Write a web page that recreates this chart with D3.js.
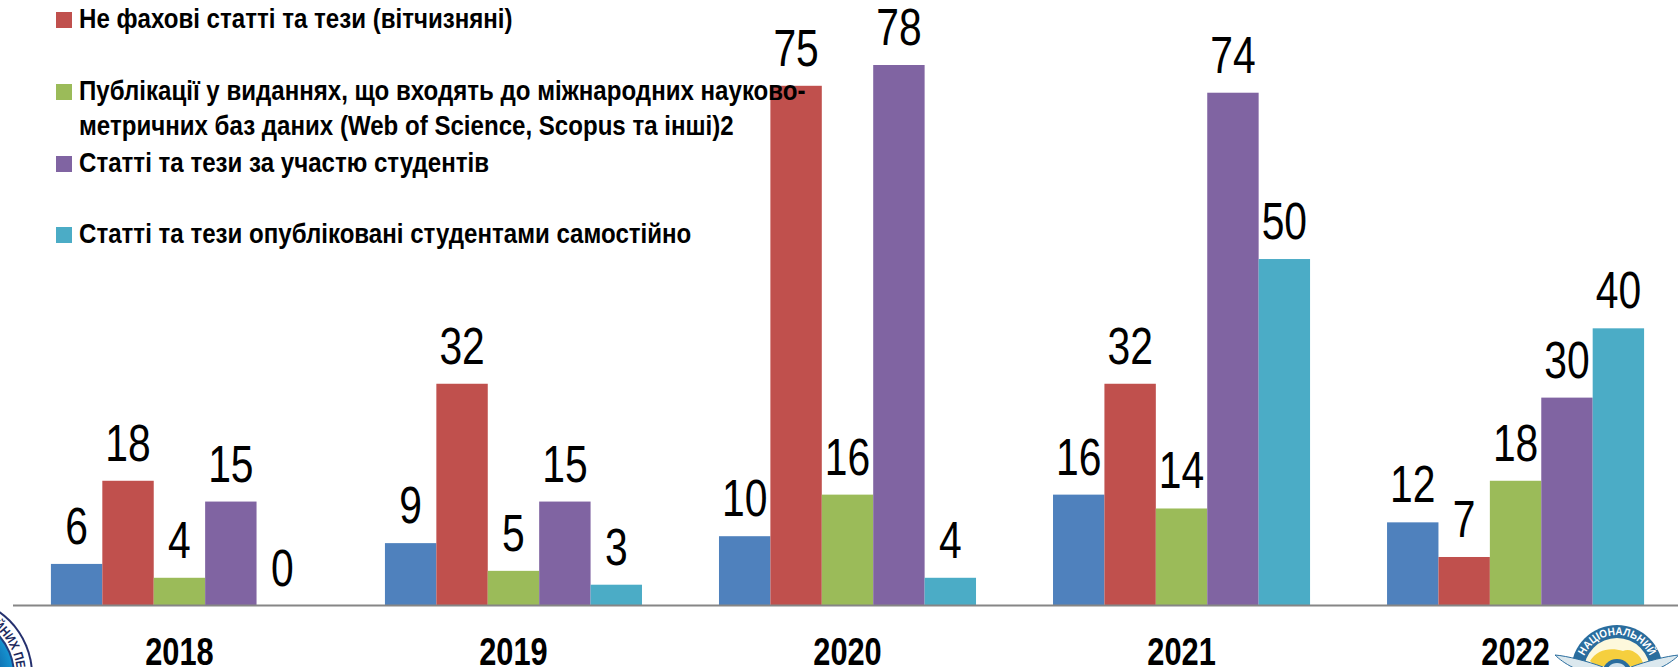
<!DOCTYPE html>
<html>
<head>
<meta charset="utf-8">
<script src="https://cdnjs.cloudflare.com/ajax/libs/d3/7.8.5/d3.min.js"></script>
<style>
html, body { margin: 0; padding: 0; background: #fff; overflow: hidden; }
text { font-family: "Liberation Sans", Arial, sans-serif; }
</style>
</head>
<body>
<svg id="chart" width="1678" height="667"></svg>
<script>
var years = ['2018', '2019', '2020', '2021', '2022'];
var seriesNames = ['s1', 's2', 's3', 's4', 's5'];
var colors = ['#4f81bd', '#c0504d', '#9bbb59', '#8064a2', '#4bacc6'];

var series1 = [6, 9, 10, 16, 12];
var series2 = [18, 32, 75, 32, 7];
var series3 = [4, 5, 16, 14, 18];
var series4 = [15, 15, 78, 74, 30];
var series5 = [0, 3, 4, 50, 40];
var allSeries = [series1, series2, series3, series4, series5];

var legendLabels = [
	'Не фахові статті та тези (вітчизняні)',
	'Публікації у виданнях, що входять до міжнародних науково-',
	'метричних баз даних (Web of Science, Scopus та інші)2',
	'Статті та тези за участю студентів',
	'Статті та тези опубліковані студентами самостійно'
];
var legendSwatches = [colors[1], colors[2], null, colors[3], colors[4]];

var svg = d3.select('#chart');

var baseline = 605.5,
	labelSqueeze = 0.8,
	legendBaselines = [28, 100, 135, 172, 243];

var x0 = d3.scaleBand().domain(years).range([12.5, 1682.5]).paddingInner(0.2305).paddingOuter(0.115);
var x1 = d3.scaleBand().domain(seriesNames).range([0, x0.bandwidth()]);
var y = d3.scaleLinear().domain([0, 78]).range([baseline, 65]);

//logos sit under the plot, both cropped by the page edge
drawLeftLogo();
drawRightLogo();

var groups = svg.selectAll('g.year')
	.data(years)
	.enter()
		.append('g')
		.attr('class', 'year')
		.attr('transform', function(d) { return 'translate(' + x0(d) + ',0)'; });

groups.selectAll('rect')
	.data(function(d, i) {
		return allSeries.map(function(s, k) { return { name: seriesNames[k], value: s[i], color: colors[k] }; });
	})
	.enter()
		.append('rect')
		.attr('x', function(d) { return x1(d.name); })
		.attr('y', function(d) { return y(d.value); })
		.attr('width', x1.bandwidth())
		.attr('height', function(d) { return baseline - y(d.value); })
		.attr('fill', function(d) { return d.color; });

groups.selectAll('text.value')
	.data(function(d, i) {
		return allSeries.map(function(s, k) { return { name: seriesNames[k], value: s[i] }; });
	})
	.enter()
		.append('text')
		.attr('class', 'value')
		.attr('text-anchor', 'middle')
		.attr('font-size', 51)
		.attr('fill', '#000')
		.attr('transform', function(d) {
			return 'translate(' + (x1(d.name) + x1.bandwidth() / 2) + ',' + (y(d.value) - 20) + ') scale(' + labelSqueeze + ',1)';
		})
		.text(function(d) { return d.value; });

//axis line and year labels
var axis = d3.axisBottom(x0).tickSize(0).tickPadding(0);
var axisG = svg.append('g').attr('transform', 'translate(0,' + baseline + ')').call(axis);
axisG.select('.domain')
	.attr('d', 'M13,0H1678')
	.attr('stroke', '#868686')
	.attr('stroke-width', 2);
axisG.selectAll('.tick text')
	.attr('font-size', 38)
	.attr('font-weight', 'bold')
	.attr('font-family', '"Liberation Sans"')
	.attr('fill', '#000')
	.attr('y', 0)
	.attr('dy', 0)
	.attr('transform', 'translate(0,59) scale(0.81,1)');

//legend
var legend = svg.append('g');
legend.selectAll('rect')
	.data(legendLabels)
	.enter()
		.append('rect')
		.filter(function(d, i) { return legendSwatches[i]; })
		.attr('x', 56)
		.attr('width', 16)
		.attr('height', 16)
		.attr('y', function(d) { return legendBaselines[legendLabels.indexOf(d)] - 16; })
		.attr('fill', function(d) { return legendSwatches[legendLabels.indexOf(d)]; });
legend.selectAll('text')
	.data(legendLabels)
	.enter()
		.append('text')
		.attr('font-size', 28)
		.attr('font-weight', 'bold')
		.attr('fill', '#000')
		.attr('transform', function(d, i) { return 'translate(79,' + legendBaselines[i] + ') scale(0.86,1)'; })
		.text(function(d) { return d; });

function drawLeftLogo() {
	var defs = svg.append('defs');
	var grad = defs.append('radialGradient').attr('id', 'leftBlue');
	grad.append('stop').attr('offset', '40%').attr('stop-color', '#0b3f86');
	grad.append('stop').attr('offset', '100%').attr('stop-color', '#1593d0');

	var g = svg.append('g').attr('transform', 'translate(-45,675)');
	g.append('circle').attr('r', 78).attr('fill', '#25306e');
	g.append('circle').attr('r', 76).attr('fill', '#fff');
	g.append('circle').attr('r', 60).attr('fill', '#1d3f80');
	g.append('circle').attr('r', 58).attr('fill', 'url(#leftBlue)');
	g.append('path').attr('id', 'leftArc').attr('d', 'M38,-49A62,62 0 0 1 62,0').attr('fill', 'none');
	g.append('text').attr('font-size', 13).attr('font-weight', 'bold').attr('fill', '#1c2a5e')
		.append('textPath').attr('href', '#leftArc')
		.attr('textLength', 50).attr('lengthAdjust', 'spacingAndGlyphs')
		.text('ЙНИХ ПЕ');
}

function drawRightLogo() {
	var g = svg.append('g').attr('transform', 'translate(1617,671)');
	g.append('circle').attr('r', 46).attr('fill', '#2a6d9e');
	g.append('circle').attr('r', 33).attr('fill', '#fdf8dc');
	g.append('path').attr('d', 'M-27,-10C-20,-22 -6,-24 6,-20C14,-24 24,-16 26,-8C16,-2 6,-6 -2,-4C-10,-6 -18,-2 -27,-10Z').attr('fill', '#f5cf3e');
	g.append('path').attr('id', 'rightArc').attr('d', 'M-36,0A36,36 0 0 1 36,0').attr('fill', 'none');
	g.append('text').attr('font-size', 11).attr('font-weight', 'bold').attr('fill', '#fff').attr('text-anchor', 'middle')
		.append('textPath').attr('href', '#rightArc').attr('startOffset', '50%')
		.attr('textLength', 82).attr('lengthAdjust', 'spacingAndGlyphs')
		.text('НАЦІОНАЛЬНИЙ');
	g.append('path').attr('d', 'M-14,-4C-30,-10 -50,-15 -62,-16C-54,-8 -38,2 -14,6Z').attr('fill', '#dbe8ee').attr('stroke', '#2a6d9e');
	g.append('path').attr('d', 'M14,-4C30,-10 50,-15 62,-16C54,-8 38,2 14,6Z').attr('fill', '#dbe8ee').attr('stroke', '#2a6d9e');
	g.append('circle').attr('r', 15).attr('cy', 3).attr('fill', '#2a6d9e');
	g.append('circle').attr('r', 11).attr('cy', 3).attr('fill', '#cfe0ea');
}
</script>
</body>
</html>
